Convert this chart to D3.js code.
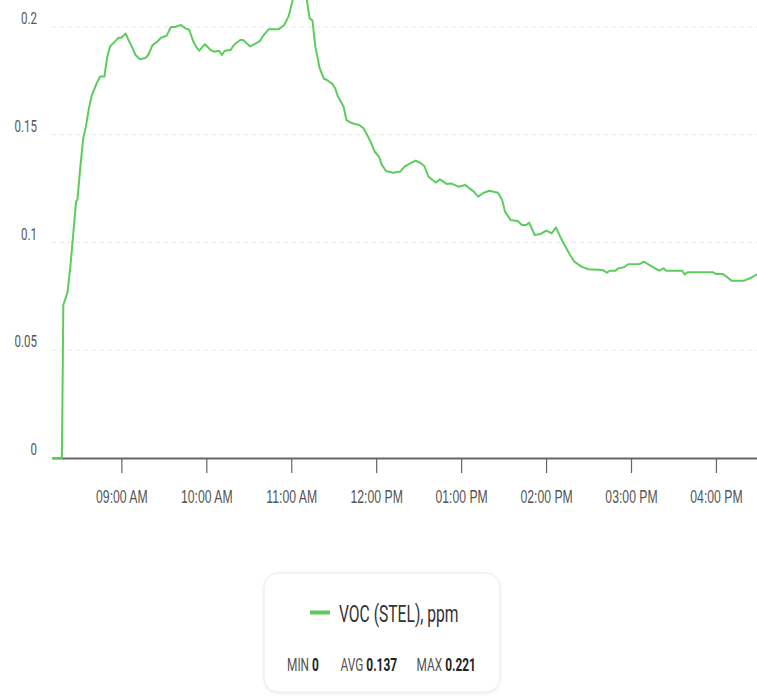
<!DOCTYPE html>
<html>
<head>
<meta charset="utf-8">
<script src="https://cdn.jsdelivr.net/npm/d3@7"></script>
<style>
  html, body { margin: 0; padding: 0; background: #fff; }
  svg { display: block; font-family: Roboto, "Liberation Sans", sans-serif; }
</style>
</head>
<body>
<svg id="chart" width="757" height="696"></svg>
<script>
// ---- data ----
const times = ["08:11","08:18","08:19","08:22","08:24","08:26","08:28","08:29","08:31","08:33","08:35","08:37","08:39","08:43","08:45","08:48","08:50","08:52","08:55","08:58",
"09:00","09:03","09:05","09:08","09:10","09:13","09:17","09:19","09:22","09:25","09:28","09:32","09:35","09:38","09:42","09:45","09:48","09:51","09:53","09:55","09:59",
"10:03","10:06","10:09","10:11","10:13","10:17","10:20","10:24","10:26","10:31","10:35","10:38","10:40","10:44","10:51","10:55","10:58","10:59",
"11:01","11:03","11:05","11:08","11:11","11:13","11:15","11:17","11:20","11:23","11:25","11:29","11:31","11:33","11:37","11:39","11:42","11:45","11:48","11:51","11:53","11:56","11:59",
"12:02","12:04","12:07","12:12","12:17","12:20","12:24","12:28","12:31","12:34","12:37","12:42","12:45","12:50","12:53","12:58",
"13:03","13:06","13:09","13:12","13:16","13:20","13:26","13:29","13:31","13:35","13:40","13:43","13:46","13:48","13:52","13:56",
"14:00","14:04","14:07","14:10","14:13","14:17","14:20","14:25","14:30","14:40","14:43","14:45","14:49","14:51","14:55","14:58",
"15:06","15:09","15:12","15:17","15:20","15:23","15:25","15:36","15:38","15:40","15:58",
"16:00","16:05","16:11","16:20","16:24","16:29"];
const vocStel = [0,0,0.071,0.077,0.089,0.104,0.119,0.120,0.135,0.148,0.154,0.162,0.168,0.1745,0.177,0.177,0.186,0.191,0.193,0.195,
0.195,0.197,0.194,0.190,0.187,0.185,0.1856,0.187,0.1916,0.193,0.195,0.196,0.200,0.200,0.201,0.1995,0.1986,0.193,0.1907,0.189,0.192,
0.1893,0.1885,0.189,0.187,0.189,0.1893,0.192,0.194,0.194,0.191,0.1924,0.1936,0.1958,0.1989,0.1989,0.2009,0.2048,0.2071,
0.2125,0.218,0.221,0.219,0.2125,0.204,0.203,0.191,0.181,0.176,0.1755,0.1736,0.1716,0.1677,0.163,0.1568,0.1556,0.155,0.1545,0.153,0.1507,0.1468,0.1421,
0.1398,0.136,0.1332,0.1324,0.1329,0.1352,0.1367,0.138,0.137,0.1355,0.1305,0.1278,0.1293,0.1271,0.1274,0.1259,
0.1267,0.1251,0.1236,0.1213,0.1231,0.124,0.1231,0.1197,0.1143,0.1104,0.110,0.1081,0.1081,0.1092,0.1035,0.1039,
0.1055,0.1043,0.107,0.1027,0.0988,0.0942,0.0911,0.0888,0.0876,0.0872,0.086,0.0869,0.0869,0.088,0.0885,0.0899,
0.090,0.0911,0.090,0.088,0.0869,0.088,0.0869,0.0869,0.0852,0.0862,0.0862,
0.0854,0.0854,0.0823,0.0823,0.0834,0.0852];
const yTickValues = [0, 0.05, 0.1, 0.15, 0.2];
const yTickLabels = ["0", "0.05", "0.1", "0.15", "0.2"];
const seriesName = "VOC (STEL), ppm";
const statLabels = ["MIN", "AVG", "MAX"];
const statValues = ["0", "0.137", "0.221"];

// ---- setup ----
const SX = 0.68;           // horizontal squeeze of the reference's text
const GREEN = "#5ccd5c";
const svg = d3.select("#chart");
const parse = d3.timeParse("%H:%M");
const data = times.map((t, i) => ({ t: parse(t), v: vocStel[i] }));

const x = d3.scaleTime().domain(d3.extent(data, d => d.t)).range([52, 757]);
const y = d3.scaleLinear().domain([0, 0.2]).range([458, 27]);

function sText(g, px, py, str, opts) {
  const t = g.append("text")
    .attr("transform", `translate(${px},${py}) scale(${SX},1)`)
    .attr("text-anchor", opts.anchor || "start")
    .attr("font-size", opts.size)
    .attr("fill", opts.fill || "#555")
    .attr("font-weight", opts.weight || 400)
    .text(str);
  return t;
}

// grid lines
const grid = svg.append("g");
yTickValues.filter(v => v > 0).forEach(v => {
  grid.append("line")
    .attr("x1", 52).attr("x2", 757)
    .attr("y1", y(v)).attr("y2", y(v))
    .attr("stroke", "#e6e6e6").attr("stroke-width", 1)
    .attr("stroke-dasharray", "4,4");
});

// y labels
const yl = svg.append("g");
yTickValues.forEach((v, i) => {
  sText(yl, 37, y(v) - 3, yTickLabels[i], { anchor: "end", size: 17, fill: "#555" });
});

// x axis
const xAxis = d3.axisBottom(x)
  .ticks(d3.timeHour.every(1))
  .tickFormat(d3.timeFormat("%I:%M %p"))
  .tickSize(15)
  .tickSizeOuter(0);
const xg = svg.append("g").attr("transform", `translate(0,${y(0)})`).call(xAxis);
xg.select(".domain").attr("stroke", "#666").attr("stroke-width", 2);
xg.selectAll(".tick line").attr("stroke", "#666").attr("stroke-width", 1.2);
xg.selectAll(".tick text").remove();
xg.selectAll(".tick").each(function(d) {
  sText(d3.select(this), 0, 45, d3.timeFormat("%I:%M %p")(d), { anchor: "middle", size: 18, fill: "#555" });
});

// line
const line = d3.line().x(d => x(d.t)).y(d => y(d.v));
svg.append("path")
  .datum(data)
  .attr("d", line)
  .attr("fill", "none")
  .attr("stroke", GREEN)
  .attr("stroke-width", 2)
  .attr("stroke-linejoin", "round");

// legend
const defs = svg.append("defs");
const f = defs.append("filter").attr("id", "sh").attr("x", "-10%").attr("y", "-10%").attr("width", "120%").attr("height", "130%");
f.append("feDropShadow").attr("dx", 0).attr("dy", 1).attr("stdDeviation", 1.5).attr("flood-color", "#000").attr("flood-opacity", 0.08);

const lg = svg.append("g");
lg.append("rect")
  .attr("x", 264).attr("y", 573).attr("width", 236).attr("height", 119)
  .attr("rx", 14).attr("ry", 14)
  .attr("fill", "#fff").attr("stroke", "#e9e9e9").attr("stroke-width", 1)
  .attr("filter", "url(#sh)");
lg.append("line")
  .attr("x1", 310).attr("x2", 330).attr("y1", 612.5).attr("y2", 612.5)
  .attr("stroke", GREEN).attr("stroke-width", 4);
sText(lg, 339, 622, seriesName, { size: 23, fill: "#333" });

const statX = [287, 340.5, 416.5];
statLabels.forEach((lab, i) => {
  const t = lg.append("text")
    .attr("transform", `translate(${statX[i]},670.5) scale(${SX},1)`)
    .attr("font-size", 17.5)
    .attr("fill", "#555");
  t.append("tspan").text(lab + " ");
  t.append("tspan").attr("font-weight", 700).attr("fill", "#222").text(statValues[i]);
});
</script>
</body>
</html>
